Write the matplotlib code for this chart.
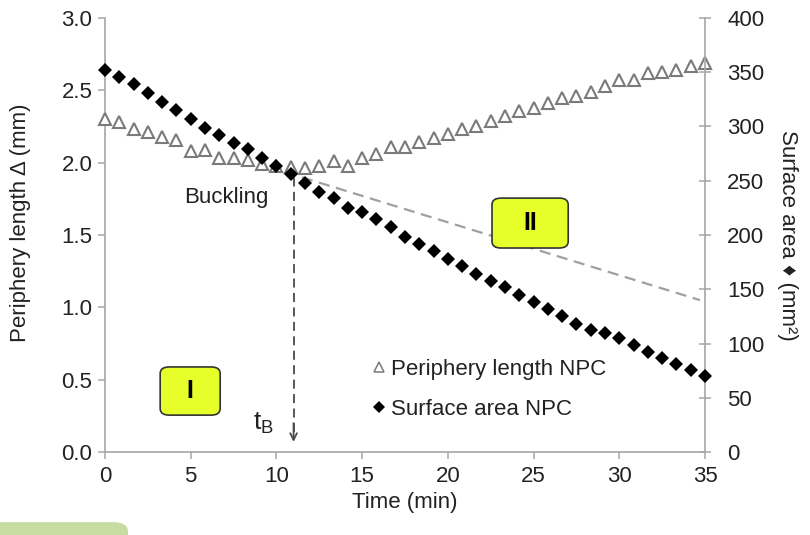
import matplotlib
matplotlib.use("Agg")
import matplotlib.pyplot as plt
from matplotlib.lines import Line2D
from matplotlib.patches import FancyBboxPatch

plt.rcParams['font.family'] = ['Liberation Sans', 'DejaVu Sans']

# sample times (min), one reading every 50 s
time_min = [0, 0.83, 1.67, 2.5, 3.33, 4.17, 5, 5.83, 6.67, 7.5, 8.33, 9.17, 10, 10.83,
            11.67, 12.5, 13.33, 14.17, 15, 15.83, 16.67, 17.5, 18.33, 19.17, 20, 20.83,
            21.67, 22.5, 23.33, 24.17, 25, 25.83, 26.67, 27.5, 28.33, 29.17, 30, 30.83,
            31.67, 32.5, 33.33, 34.17, 35]

periphery = [2.30, 2.28, 2.23, 2.21, 2.18, 2.16, 2.08, 2.09, 2.03, 2.03, 2.02, 1.99, 1.98, 1.97,
             1.96, 1.98, 2.01, 1.98, 2.03, 2.06, 2.11, 2.11, 2.14, 2.17, 2.20, 2.23, 2.25, 2.29,
             2.32, 2.36, 2.38, 2.41, 2.45, 2.46, 2.49, 2.53, 2.57, 2.57, 2.62, 2.63, 2.64, 2.67,
             2.69]

surface = [352, 346, 339, 331, 323, 315, 307, 299, 292, 285, 279, 271, 264, 256, 248, 240,
           234, 225, 221, 215, 207, 198, 192, 185, 178, 171, 164, 158, 152, 145, 138, 132,
           125, 118, 112, 110, 105, 99, 92, 87, 81, 76, 70]

# extrapolated periphery trend after buckling
trend_t = [10.5, 34.7]
trend_y = [1.935, 1.05]
t_buckling = 11
buckling_top = 1.92

axis_col = '#a6a6a6'
text_col = '#222222'
fs = 16

fig = plt.figure(figsize=(8.1, 5.35), dpi=100)
ax = fig.add_axes([0.1296, 0.1551, 0.7408, 0.8113])
ax2 = ax.twinx()

ax.plot(trend_t, trend_y, color='#a0a0a0', lw=1.6, linestyle=(0, (5, 3)))
ax.vlines(t_buckling, 0.14, buckling_top, colors='#4a4a4a', lw=1.3, linestyles=(0, (5, 3)))
ax.annotate('', xy=(t_buckling, 0.07), xytext=(t_buckling, 0.2),
            arrowprops=dict(arrowstyle='->', lw=1.3, color='#4a4a4a',
                            mutation_scale=12, shrinkA=0, shrinkB=0))

ax.plot(time_min, periphery, linestyle='none', marker='^', ms=8.5, mfc='white',
        mec='#7a7a7a', mew=1.5, clip_on=False, zorder=3)
ax2.plot(time_min, surface, linestyle='none', marker='D', ms=7, color='black',
         mew=0, clip_on=False, zorder=3)

ax.set_xlim(0, 35)
ax.set_ylim(0, 3.0)
ax2.set_ylim(0, 400)
ax.set_xticks(range(0, 36, 5))
ax.set_yticks([0, 0.5, 1.0, 1.5, 2.0, 2.5, 3.0])
ax.set_yticklabels([f'{v:.1f}' for v in [0, 0.5, 1.0, 1.5, 2.0, 2.5, 3.0]])
ax2.set_yticks(range(0, 401, 50))

for a in (ax, ax2):
    a.spines['top'].set_visible(False)
    for s in a.spines.values():
        s.set_color(axis_col)
        s.set_linewidth(1.2)
ax.spines['right'].set_visible(False)
ax2.spines['left'].set_visible(False)
ax2.spines['bottom'].set_visible(False)

ax.tick_params(axis='both', colors=axis_col, labelcolor=text_col, labelsize=fs,
               length=5, width=1.1, direction='out')
ax.tick_params(axis='y', pad=4)
ax.tick_params(axis='x', pad=5)
ax2.tick_params(axis='y', colors=axis_col, labelcolor=text_col, labelsize=fs,
                length=8, width=1.1, direction='inout', pad=12)

ax.set_xlabel('Time (min)', fontsize=fs, color=text_col, labelpad=4)
ax.set_ylabel('Periphery length Δ (mm)', fontsize=fs, color=text_col)
ax.yaxis.set_label_coords(-0.124, 0.528)
ax2.set_ylabel('Surface area ♦ (mm²)', fontsize=fs, color=text_col, rotation=270,
               labelpad=24)

ax.text(7.1, 1.76, 'Buckling', fontsize=fs, color=text_col, ha='center', va='center')
ax.text(9.85, 0.2, r'$\mathregular{t_B}$', fontsize=19, color=text_col, ha='right', va='center')

# phase boxes
for x0, y0, w, h, lab in [(0.092, 0.085, 0.100, 0.111, 'I'),
                          (0.645, 0.470, 0.127, 0.115, 'II')]:
    box = FancyBboxPatch((x0, y0), w, h, boxstyle='round,pad=0,rounding_size=0.015',
                         transform=ax.transAxes, fc='#e6ff2b', ec='#333333', lw=1.2,
                         zorder=4, clip_on=False)
    ax.add_patch(box)
    ax.text(x0 + w / 2, y0 + h / 2, lab, transform=ax.transAxes, fontsize=18,
            fontweight='bold', ha='center', va='center', color='black', zorder=5)

handles = [Line2D([], [], linestyle='none', marker='^', ms=6.5, mfc='white', mec='#7a7a7a', mew=1.1),
           Line2D([], [], linestyle='none', marker='D', ms=6, color='black', mew=0)]
ax.legend(handles, ['Periphery length NPC', 'Surface area NPC'], loc='upper left',
          bbox_to_anchor=(0.446, 0.215), frameon=False, fontsize=fs, handlelength=0.6,
          handletextpad=0.25, labelspacing=0.85, borderpad=0, borderaxespad=0,
          labelcolor=text_col)

fig.patches.append(FancyBboxPatch((-0.03, -0.05), 0.188, 0.074,
                                  boxstyle='round,pad=0,rounding_size=0.018',
                                  transform=fig.transFigure, fc='#c6dca0', ec='none'))

fig.savefig('out.png', dpi=100)
